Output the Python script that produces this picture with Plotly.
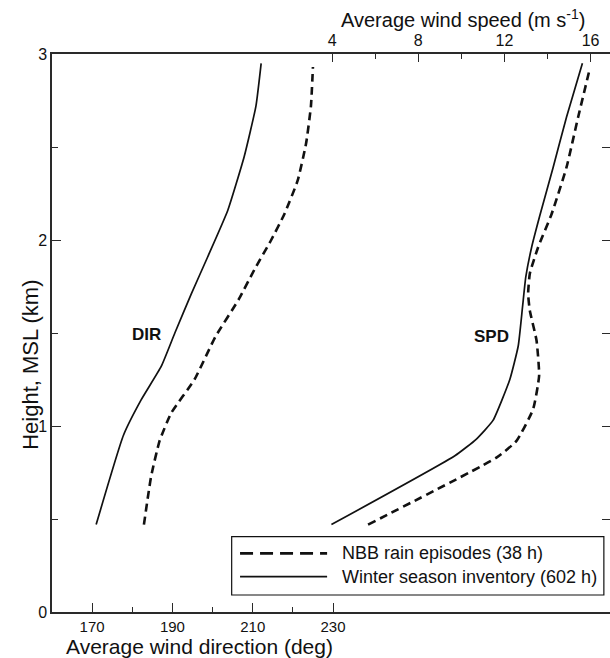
import plotly.graph_objects as go

# Wind direction profiles (deg) vs height (km MSL)
dir_winter_h = [0.47, 0.95, 1.14, 1.32, 1.50, 1.71, 1.91, 2.16, 2.45, 2.72, 2.95]
dir_winter = [171.0, 177.8, 182.2, 187.2, 190.6, 194.7, 198.8, 203.8, 207.9, 210.8, 212.1]

dir_nbb_h = [0.47, 0.73, 0.92, 1.07, 1.25, 1.48, 1.68, 1.84, 2.00, 2.14, 2.32, 2.52, 2.72, 2.93]
dir_nbb = [182.9, 184.7, 186.8, 189.7, 195.5, 200.7, 206.5, 210.4, 214.6, 217.9, 221.2, 223.3, 224.5, 225.0]

# Wind speed profiles (m/s) vs height (km MSL)
spd_winter_h = [0.47, 0.84, 0.93, 1.03, 1.25, 1.43, 1.64, 1.80, 1.96, 2.13, 2.39, 2.66, 2.95]
spd_winter = [3.97, 9.70, 10.70, 11.47, 12.25, 12.64, 12.84, 12.99, 13.26, 13.64, 14.26, 14.88, 15.62]

spd_nbb_h = [0.47, 0.83, 0.92, 1.09, 1.27, 1.46, 1.62, 1.71, 1.82, 1.96, 2.14, 2.39, 2.66, 2.92]
spd_nbb = [5.67, 11.63, 12.56, 13.33, 13.61, 13.49, 13.18, 13.10, 13.18, 13.56, 14.19, 14.88, 15.42, 15.96]

series_names = ["NBB rain episodes (38 h)", "Winter season inventory (602 h)"]

dir_ticks = [170, 190, 210, 230]
dir_minor = [180, 200, 220]
spd_ticks = [4, 8, 12, 16]
spd_minor = [6, 10, 14]
height_ticks = [0, 1, 2, 3]

FONT = "Liberation Sans, Arial, sans-serif"
INK = "#111111"
AXIS = "#2a2a2a"
DASH = "8px,5px"
SMOOTH = 0.45

fig = go.Figure()

fig.add_trace(go.Scatter(x=dir_nbb, y=dir_nbb_h, mode="lines", name=series_names[0],
                         line=dict(color=INK, width=2.6, dash=DASH, shape="spline",
                                   smoothing=SMOOTH), showlegend=False))
fig.add_trace(go.Scatter(x=dir_winter, y=dir_winter_h, mode="lines", name=series_names[1],
                         line=dict(color=INK, width=1.7, shape="spline", smoothing=SMOOTH),
                         showlegend=False))
fig.add_trace(go.Scatter(x=spd_nbb, y=spd_nbb_h, mode="lines", name=series_names[0],
                         xaxis="x2", yaxis="y2",
                         line=dict(color=INK, width=2.6, dash=DASH, shape="spline",
                                   smoothing=SMOOTH), showlegend=False))
fig.add_trace(go.Scatter(x=spd_winter, y=spd_winter_h, mode="lines", name=series_names[1],
                         xaxis="x2", yaxis="y2",
                         line=dict(color=INK, width=1.7, shape="spline", smoothing=SMOOTH),
                         showlegend=False))

fig.update_layout(
    width=610, height=658,
    margin=dict(l=52, r=0, t=54, b=46),
    paper_bgcolor="white", plot_bgcolor="white",
    font=dict(family=FONT, color=INK),
    xaxis=dict(range=[160, 299], tickvals=dir_ticks, ticks="inside", ticklen=9,
               tickwidth=1.2, tickcolor=AXIS, showline=True, linecolor=AXIS, linewidth=1.5,
               showgrid=False, zeroline=False, tickfont=dict(family=FONT, size=15, color=INK),
               minor=dict(tickvals=dir_minor, ticks="inside", ticklen=5, tickcolor=AXIS,
                          tickwidth=1.2, showgrid=False)),
    xaxis2=dict(range=[-9, 16.9], overlaying="x", side="top", anchor="y2",
                tickvals=spd_ticks, ticks="inside", ticklen=8, tickwidth=1.2, tickcolor=AXIS,
                showline=True, linecolor=AXIS, linewidth=1.5, showgrid=False, zeroline=False,
                tickfont=dict(family=FONT, size=16, color=INK),
                minor=dict(tickvals=spd_minor, ticks="inside", ticklen=5, tickcolor=AXIS,
                           tickwidth=1.2, showgrid=False)),
    yaxis=dict(range=[0, 3], tickvals=height_ticks, ticks="inside", ticklen=9, tickwidth=1.2,
               tickcolor=AXIS, showline=True, linecolor=AXIS, linewidth=1.5, showgrid=False,
               zeroline=False, tickfont=dict(family=FONT, size=16, color=INK),
               minor=dict(dtick=0.5, ticks="inside", ticklen=6, tickcolor=AXIS, tickwidth=1.2,
                          showgrid=False)),
    yaxis2=dict(range=[0, 3], overlaying="y", side="right", anchor="x2",
                tickvals=[0.5, 1, 1.5, 2, 2.5], ticks="inside", ticklen=8, tickwidth=1.2,
                tickcolor=AXIS, showline=False, showticklabels=False, showgrid=False,
                zeroline=False),
)

# Axis titles
fig.add_annotation(text="Average wind speed (m s<sup>-1</sup>)", xref="paper", yref="paper",
                   x=0.737, y=1.0, yshift=36, xanchor="center", yanchor="middle",
                   showarrow=False, font=dict(family=FONT, size=20, color=INK))
fig.add_annotation(text="Average wind direction (deg)", xref="paper", yref="paper",
                   x=0.265, y=0.0, yshift=-34, xanchor="center", yanchor="middle",
                   showarrow=False, font=dict(family=FONT, size=21, color=INK))
fig.add_annotation(text="Height, MSL (km)", xref="paper", yref="paper",
                   x=0.0, xshift=-21, y=0.443, xanchor="center", yanchor="middle", textangle=-90,
                   showarrow=False, font=dict(family=FONT, size=22, color=INK))

# Curve labels
fig.add_annotation(text="<b>DIR</b>", x=183.5, y=1.49, xref="x", yref="y", showarrow=False,
                   font=dict(family=FONT, size=17, color=INK))
fig.add_annotation(text="<b>SPD</b>", x=11.4, y=1.48, xref="x2", yref="y2", showarrow=False,
                   font=dict(family=FONT, size=17, color=INK))

# Legend box with long line samples
fig.add_shape(type="rect", xref="paper", yref="paper", x0=0.322, x1=0.989, y0=0.0305, y1=0.135,
              line=dict(color=INK, width=1.2), fillcolor="white", layer="above")
legend_rows = [(0.105, dict(color=INK, width=2.8, dash="13px,7px")),
               (0.0633, dict(color=INK, width=1.8))]
for (yy, ln), label in zip(legend_rows, series_names):
    fig.add_shape(type="line", xref="paper", yref="paper", x0=0.337, x1=0.493, y0=yy, y1=yy,
                  line=ln, layer="above")
    fig.add_annotation(text=label, xref="paper", yref="paper", x=0.516, y=yy,
                       xanchor="left", yanchor="middle", showarrow=False,
                       font=dict(family=FONT, size=18, color=INK))

fig.write_html("out.html")
